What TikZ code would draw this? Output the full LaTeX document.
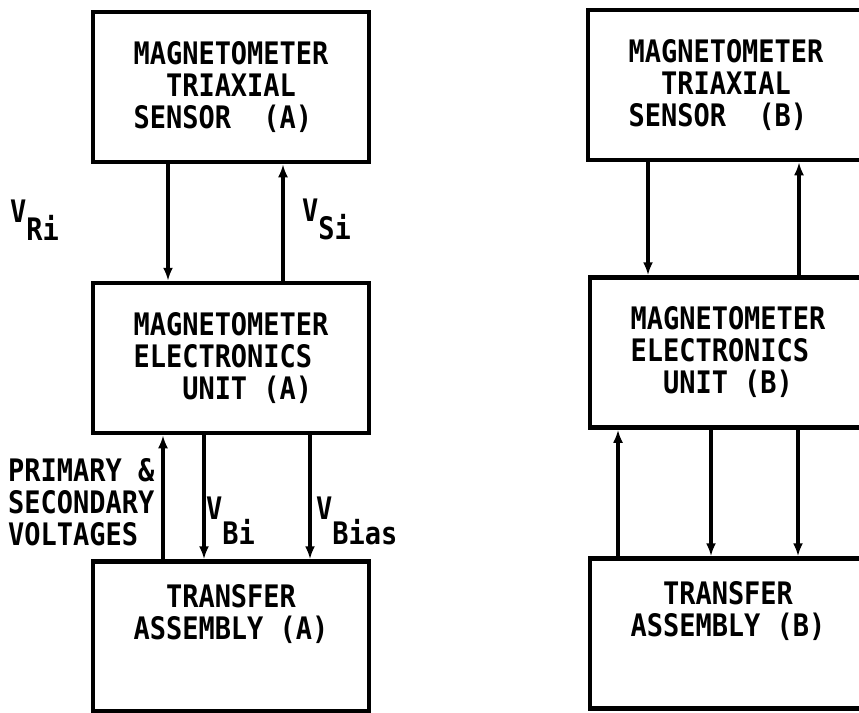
\documentclass[tikz,border=0pt]{standalone}
\usepackage{fontspec}
\newfontfamily\plotterfont[FakeStretch=0.87]{DejaVu Sans Mono}
\usetikzlibrary{positioning,arrows.meta}
\newcommand\lowsub[2][18pt]{\raisebox{-#1}{#2}}

\begin{document}
\begin{tikzpicture}[x=1pt,y=-1pt,
  lettering/.style={font=\plotterfont\bfseries\fontsize{31pt}{32pt}\selectfont,inner sep=0pt,align=left},
  unitbox/.style={lettering,draw,line width=4.5pt,minimum width=276pt,minimum height=150pt},
  sig/.style={line width=4pt,-{Latex[length=13pt,width=10pt]}}]
\useasboundingbox (0,0) rectangle (859,712);

\node[unitbox] (sa) at (231,87) {MAGNETOMETER\\\phantom{MA}TRIAXIAL\\SENSOR\phantom{MA}(A)};
\node[unitbox] (ea) at (231,358) {MAGNETOMETER\\ELECTRONICS\\\phantom{MAG}UNIT (A)};
\node[unitbox] (ta) at (231,636.5) {};
\node[lettering,below=25pt of ta.north] (tatext) {\phantom{MA}TRANSFER\\ASSEMBLY (A)};

\node[unitbox] (sb) at (726,85) {MAGNETOMETER\\\phantom{MA}TRIAXIAL\\SENSOR\phantom{MA}(B)};
\node[unitbox] (eb) at (728,352.5) {MAGNETOMETER\\ELECTRONICS\\\phantom{MA}UNIT (B)};
\node[unitbox] (tb) at (728,633.5) {};
\node[lettering,below=25pt of tb.north] (tbtext) {\phantom{MA}TRANSFER\\ASSEMBLY (B)};

\node[lettering,anchor=north west] (vri) at (10,200) {V\lowsub{Ri}};
\node[lettering,anchor=north west] (vsi) at (302,199) {V\lowsub{Si}};
\node[lettering,anchor=north west] (vbi) at (206,497) {V\lowsub[25pt]{Bi}};
\node[lettering,anchor=north west] (vbias) at (316,497) {V\lowsub[25pt]{Bias}};
\node[lettering,anchor=north west] (pv) at (8,458) {PRIMARY \&\\SECONDARY\\VOLTAGES};

\draw[sig] (168,0 |- sa.south) -- (168,0 |- ea.north);
\draw[sig] (283,0 |- ea.north) -- (283,0 |- sa.south);
\draw[sig] (163,0 |- ta.north) -- (163,0 |- ea.south);
\draw[sig] (204,0 |- ea.south) -- (204,0 |- ta.north);
\draw[sig] (310,0 |- ea.south) -- (310,0 |- ta.north);

\draw[sig] (648,0 |- sb.south) -- (648,0 |- eb.north);
\draw[sig] (799,0 |- eb.north) -- (799,0 |- sb.south);
\draw[sig] (618,0 |- tb.north) -- (618,0 |- eb.south);
\draw[sig] (711,0 |- eb.south) -- (711,0 |- tb.north);
\draw[sig] (798,0 |- eb.south) -- (798,0 |- tb.north);
\end{tikzpicture}
\end{document}
